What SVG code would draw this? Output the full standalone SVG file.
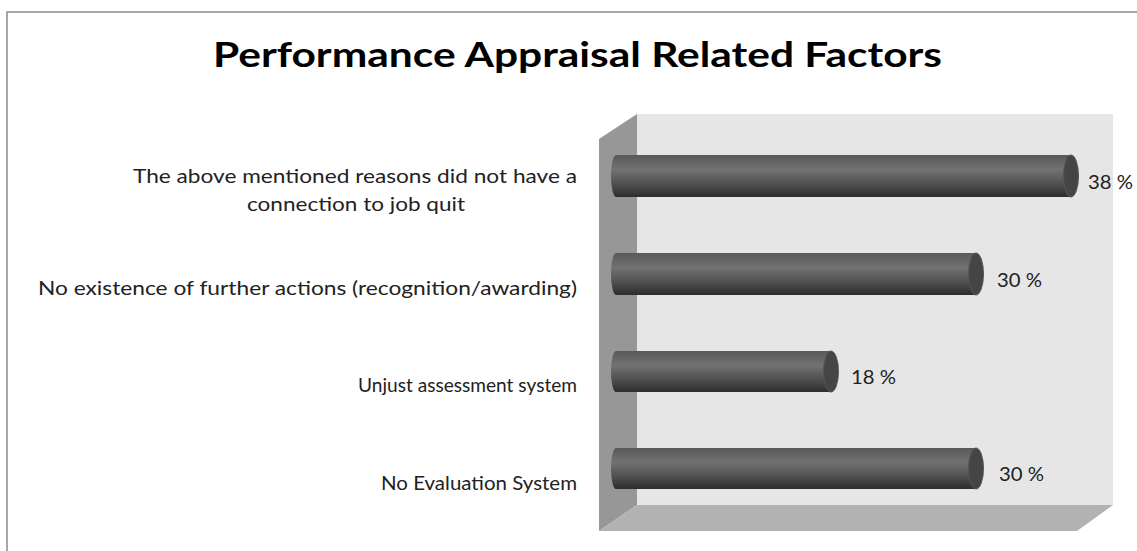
<svg xmlns="http://www.w3.org/2000/svg" width="1137" height="551" viewBox="0 0 1137 551">
  <style>
    .title { font-family: Lato, "Open Sans", "Liberation Sans", sans-serif; font-weight: bold; font-size: 34px; fill: #000; }
    .lbl { font-family: Lato, "Open Sans", "Liberation Sans", sans-serif; font-size: 20px; fill: #222222; }
    .val { font-family: Lato, "Open Sans", "Liberation Sans", sans-serif; font-size: 20px; fill: #222222; }
    .body { fill: url(#barGrad); }
    .cap { fill: #454545; stroke: #555555; stroke-width: 1; }
  </style>
  <defs>
    <linearGradient id="barGrad" x1="0" y1="0" x2="0" y2="1">
      <stop offset="0" stop-color="#595959"/>
      <stop offset="0.35" stop-color="#727272"/>
      <stop offset="0.75" stop-color="#4a4a4a"/>
      <stop offset="1" stop-color="#2c2c2c"/>
    </linearGradient>
  </defs>

  <rect x="0" y="0" width="1137" height="551" fill="#ffffff"/>
  <rect x="7" y="12" width="1140" height="560" fill="none" stroke="#8a8a8a" stroke-width="1.5"/>

  <g id="title">
    <text class="title" x="213" y="67" textLength="729" lengthAdjust="spacingAndGlyphs">Performance  Appraisal Related  Factors</text>
  </g>

  <g id="chart-frame">
    <rect x="637" y="114" width="476" height="391" fill="#e6e6e6"/>
    <polygon points="599,139 637,114 637,505 599,531" fill="#979797"/>
    <polygon points="637,505 1113,505 1077,531 599,531" fill="#b2b2b2"/>
  </g>

  <g id="connectors"></g>

  <g id="bar-above-mentioned">
    <text class="lbl" x="133" y="183" textLength="444" lengthAdjust="spacingAndGlyphs">The above mentioned reasons did not have a</text>
    <text class="lbl" x="247" y="211" textLength="218" lengthAdjust="spacingAndGlyphs">connection to job quit</text>
    <path class="body" d="M1071,155 L616,155 A5,21 0 0 0 616,197 L1071,197 Z"/>
    <ellipse class="cap" cx="1071" cy="176" rx="7.5" ry="21"/>
    <text class="val" x="1088" y="189" textLength="45" lengthAdjust="spacingAndGlyphs">38 %</text>
  </g>

  <g id="bar-no-further-actions">
    <text class="lbl" x="38" y="295" textLength="539" lengthAdjust="spacingAndGlyphs">No existence of further actions (recognition/awarding)</text>
    <path class="body" d="M976,253 L616,253 A5,21 0 0 0 616,295 L976,295 Z"/>
    <ellipse class="cap" cx="976" cy="274" rx="7.5" ry="21"/>
    <text class="val" x="997" y="287" textLength="45" lengthAdjust="spacingAndGlyphs">30 %</text>
  </g>

  <g id="bar-unjust-assessment">
    <text class="lbl" x="358" y="392" textLength="219" lengthAdjust="spacingAndGlyphs">Unjust assessment system</text>
    <path class="body" d="M831,351 L616,351 A5,20.5 0 0 0 616,392 L831,392 Z"/>
    <ellipse class="cap" cx="831" cy="371.5" rx="7.5" ry="20.5"/>
    <text class="val" x="851" y="384" textLength="45" lengthAdjust="spacingAndGlyphs">18 %</text>
  </g>

  <g id="bar-no-evaluation">
    <text class="lbl" x="381" y="490" textLength="196" lengthAdjust="spacingAndGlyphs">No Evaluation System</text>
    <path class="body" d="M976,448 L616,448 A5,20.5 0 0 0 616,489 L976,489 Z"/>
    <ellipse class="cap" cx="976" cy="468.5" rx="7.5" ry="20.5"/>
    <text class="val" x="999" y="481" textLength="45" lengthAdjust="spacingAndGlyphs">30 %</text>
  </g>
</svg>
